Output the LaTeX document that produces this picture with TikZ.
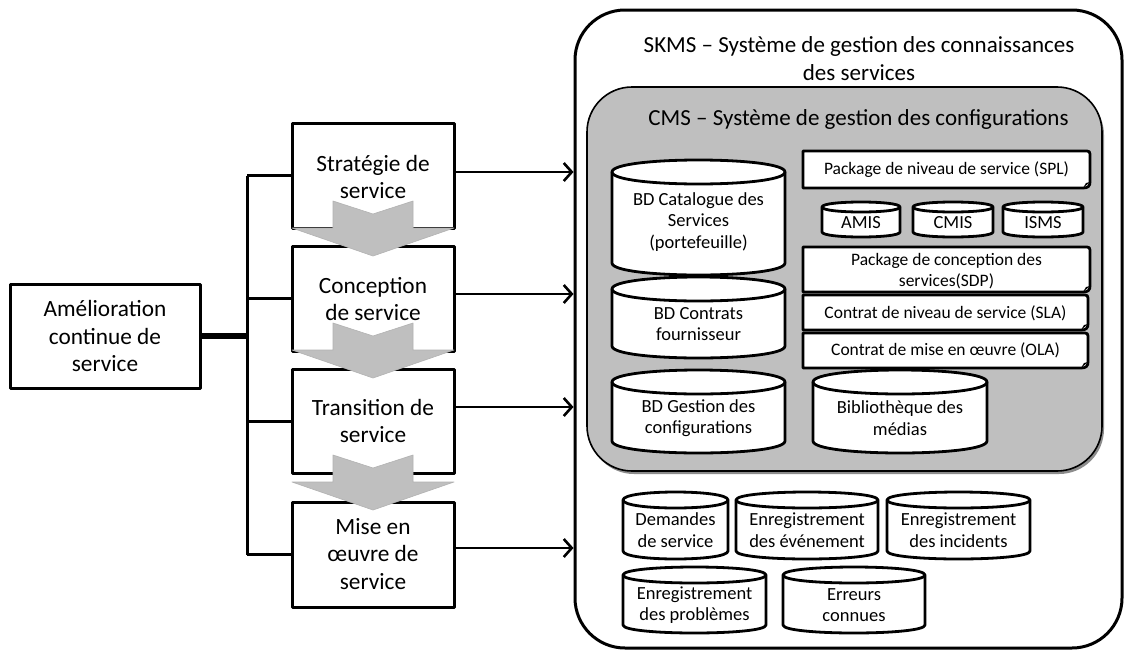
\documentclass[tikz,border=0pt]{standalone}
\usepackage{fontspec}
\setmainfont{Carlito}
\usetikzlibrary{arrows.meta,calc}
\tikzset{
  bigtxt/.style={font=\fontsize{23.3}{27.5}\selectfont, align=center, inner sep=0pt},
  ttltxt/.style={font=\fontsize{23}{28}\selectfont, align=center, inner sep=0pt},
  cyltxt/.style={font=\fontsize{18.5}{21.5}\selectfont, align=center, inner sep=0pt},
  doctxt/.style={font=\fontsize{17.5}{20.5}\selectfont, align=center, inner sep=0pt},
  stagebox/.style={draw, line width=3pt, fill=white, minimum width=162pt, inner sep=0pt},
  bus/.style={line width=3pt},
  thickbus/.style={line width=5.5pt},
  arr/.style={line width=2.6pt, -{Straight Barb[length=8pt,width=18pt]}},
  chev/.style={fill=black!25, draw=black!30, line width=0.6pt},
  shape3/.style={draw, line width=2.8pt, fill=white, line join=round},
}
% cylinder: name, x0, y0, x1, y1, ry, text-y, text
\newcommand\dbcyl[8]{%
  \filldraw[shape3] (#2,#3+#6) -- (#2,#5-#6) .. controls (#2,#5+#6/3) and (#4,#5+#6/3) .. (#4,#5-#6)
     -- (#4,#3+#6) .. controls (#4,#3-#6/3) and (#2,#3-#6/3) .. cycle;
  \draw[shape3, fill=none] (#2,#3+#6) .. controls (#2,#3+7*#6/3) and (#4,#3+7*#6/3) .. (#4,#3+#6);
  \node[cyltxt] (#1) at ({(#2+#4)/2},#7) {#8};
}
% document: name, x0, y0, x1, y1, text-y, text
\newcommand\docbox[7]{%
  \filldraw[shape3] (#2,#3) -- (#4-3,#3) .. controls (#4-1,#3) and (#4,#3+1) .. (#4,#3+3) -- (#4,#5-6) .. controls (#4,#5-2) and (#4-2,#5) .. (#4-7,#5) -- (#2,#5) -- cycle;
  \fill (#4,#5-6) -- (#4-7,#5) -- (#4-4,#5-5) -- cycle;
  \node[doctxt] (#1) at ({(#2+#4)/2},#6) {#7};
}
\newcommand\chevron[1]{%
  \filldraw[chev] (333,#1) -- (373,#1+13) -- (413,#1) -- (413,#1+27) -- (454,#1+27) -- (373,#1+55) -- (292,#1+27) -- (333,#1+27) -- cycle;
}
\begin{document}
\begin{tikzpicture}[x=1pt,y=-1pt, line join=round]
\useasboundingbox[fill=white] (0,0) rectangle (1129,653);

% left box and bus
\node[draw, line width=3pt, fill=white, minimum width=190pt, minimum height=104pt, inner sep=0pt] (csi) at (105,336) {};
\node[bigtxt] (csit) at (csi) {Amélioration\\continue de\\service};

\node[stagebox, minimum height=105pt] (s1) at (373,175.5) {};
\node[stagebox, minimum height=105pt] (s2) at (373,298.5) {};
\node[stagebox, minimum height=104pt] (s3) at (373,421) {};
\node[stagebox, minimum height=105pt] (s4) at (373,554.5) {};

\coordinate (bt) at (247,175.5);
\draw[bus] (s1.west -| bt) -- (s4.west -| bt);
\draw[bus] (s1.west) -- (s1.west -| bt);
\draw[bus] (s2.west) -- (s2.west -| bt);
\draw[bus] (s3.west) -- (s3.west -| bt);
\draw[bus] (s4.west) -- (s4.west -| bt);
\draw[thickbus] (csi.east) -- (csi.east -| bt);

\chevron{201}
\chevron{323}
\chevron{455}

\node[bigtxt] (t1) at (373,177) {Stratégie de\\service};
\node[bigtxt] (t2) at (373,299) {Conception\\de service};
\node[bigtxt] (t3) at (373,421) {Transition de\\service};
\node[bigtxt] (t4) at (373,554) {Mise en\\œuvre de\\service};

% SKMS
\node[draw, line width=3pt, fill=white, rounded corners=50pt, minimum width=547pt, minimum height=638pt, inner sep=0pt] (skms) at (848.5,329) {};
\node[ttltxt] (skmst) at (859,59) {SKMS – Système de gestion des connaissances\\des services};

\coordinate (a1) at ($(s1.east)+(0,-3.5)$);
\coordinate (a2) at ($(s2.east)+(0,-4.5)$);
\coordinate (a3) at ($(s3.east)+(0,-14)$);
\coordinate (a4) at ($(s4.east)+(0,-6.5)$);
\draw[arr] (a1) -- (a1 -| skms.west);
\draw[arr] (a2) -- (a2 -| skms.west);
\draw[arr] (a3) -- (a3 -| skms.west);
\draw[arr] (a4) -- (a4 -| skms.west);

% CMS
\fill[black!45, rounded corners=45pt] (589,90) rectangle (1104,474);
\node[draw, line width=1.6pt, fill=black!25, rounded corners=45pt, minimum width=515pt, minimum height=384pt, inner sep=0pt] (cms) at (844.5,279) {};
\node[ttltxt] (cmst) at (858.5,119) {CMS – Système de gestion des configurations};

\dbcyl{cat}{612}{160}{785}{275}{12}{222}{BD Catalogue des\\Services\\(portefeuille)}
\dbcyl{con}{612}{277}{785}{358}{12}{324}{BD Contrats\\fournisseur}
\dbcyl{ges}{612}{370}{785}{453}{12}{418}{BD Gestion des\\configurations}
\dbcyl{bib}{813}{370}{987}{453}{12}{418}{Bibliothèque des\\médias}
\dbcyl{amis}{822}{202}{900}{237}{5}{223}{AMIS}
\dbcyl{cmis}{913}{202}{993}{237}{5}{223}{CMIS}
\dbcyl{isms}{1003}{202}{1083}{237}{5}{223}{ISMS}

\docbox{spl}{803}{151}{1090}{188}{170}{Package de niveau de service (SPL)}
\docbox{sdp}{803}{247}{1090}{292}{271}{Package de conception des\\services(SDP)}
\docbox{sla}{803}{295}{1088}{330}{313}{Contrat de niveau de service (SLA)}
\docbox{ola}{803}{333}{1088}{368}{350}{Contrat de mise en œuvre (OLA)}

\dbcyl{dem}{623}{492}{728}{559}{8}{530}{Demandes\\de service}
\dbcyl{evt}{736}{492}{878}{559}{8}{530}{Enregistrement\\des événement}
\dbcyl{inc}{887}{492}{1030}{559}{8}{530}{Enregistrement\\des incidents}
\dbcyl{pro}{623}{567}{766}{633}{8}{605}{Enregistrement\\des problèmes}
\dbcyl{err}{783}{567}{925}{633}{8}{605}{Erreurs\\connues}
\end{tikzpicture}
\end{document}
